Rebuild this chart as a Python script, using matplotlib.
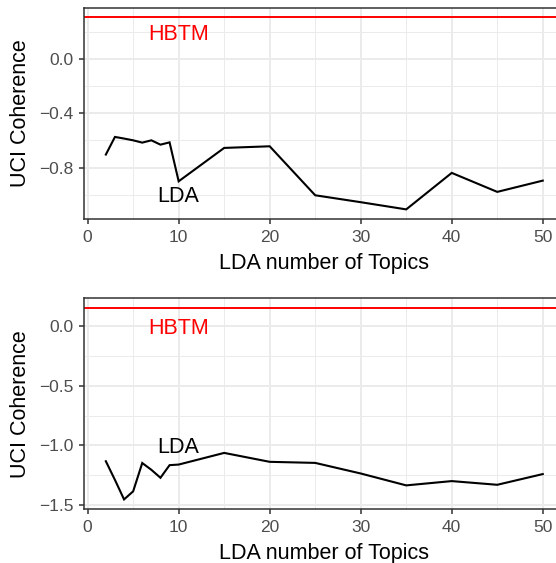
import matplotlib
matplotlib.use("Agg")
import matplotlib.pyplot as plt
from matplotlib.ticker import MultipleLocator

plt.rcParams["font.family"] = ["Liberation Sans", "DejaVu Sans"]

# number of topics used for LDA
topics = [2, 3, 4, 5, 6, 7, 8, 9, 10, 15, 20, 25, 30, 35, 40, 45, 50]

# UCI coherence, first corpus
lda_top = [-0.704, -0.574, -0.586, -0.599, -0.616, -0.599, -0.631, -0.614, -0.901,
           -0.655, -0.643, -1.004, -1.055, -1.108, -0.839, -0.979, -0.896]
hbtm_top = 0.309

# UCI coherence, second corpus
lda_bot = [-1.133, -1.290, -1.454, -1.386, -1.148, -1.205, -1.272, -1.166, -1.161,
           -1.063, -1.138, -1.147, -1.236, -1.336, -1.300, -1.331, -1.241]
hbtm_bot = 0.156

W, H = 556, 563
fig = plt.figure(figsize=(W / 100, H / 100), dpi=100)
FS = 15.5


def expand(lo, hi, f=0.05):
    d = (hi - lo) * f
    return lo - d, hi + d


def label(ax, x, y, s, color):
    # centre the capitals on (x, y), like ggplot's annotate()
    ax.annotate(s, (x, y), xytext=(0, -0.358 * FS), textcoords="offset points",
                ha="center", va="baseline", color=color, fontsize=FS)


def panel(rect, y, hbtm, major, hbtm_y):
    ax = fig.add_axes(rect)
    ax.plot(topics, y, color="black", lw=1.5, solid_joinstyle="miter")
    ax.axhline(hbtm, color="#FF0000", lw=1.4)
    label(ax, 10, hbtm_y, "HBTM", "#FF0000")
    label(ax, 10, -1.0, "LDA", "black")
    ax.set_xlim(*expand(min(topics), max(topics)))
    ax.set_ylim(*expand(min(min(y), hbtm), max(max(y), hbtm)))
    ax.xaxis.set_major_locator(MultipleLocator(10))
    ax.xaxis.set_minor_locator(MultipleLocator(5))
    ax.yaxis.set_major_locator(MultipleLocator(major))
    ax.yaxis.set_minor_locator(MultipleLocator(major / 2))
    ax.yaxis.set_major_formatter(lambda v, p: f"{v:.1f}".replace("-", "\u2212"))
    ax.grid(which="major", color="#EBEBEB", lw=1.4)
    ax.grid(which="minor", color="#EBEBEB", lw=0.7)
    ax.set_axisbelow(True)
    for s in ax.spines.values():
        s.set_color("#333333")
        s.set_linewidth(1.1)
    ax.tick_params(which="major", length=3.8, width=1.1, color="#333333",
                   labelcolor="#4D4D4D", labelsize=12.5)
    ax.tick_params(axis="x", pad=4.0)
    ax.tick_params(axis="y", pad=3.6)
    ax.tick_params(which="minor", length=0)
    ax.set_xlabel("LDA number of Topics", fontsize=FS)
    ax.set_ylabel("UCI Coherence", fontsize=FS)
    h = rect[3] * H
    ax.xaxis.set_label_coords(0.5, -33.5 / h)
    ax.yaxis.set_label_coords(-52.7 / (rect[2] * W), 0.5)
    return ax


panel([84 / W, 1 - 219 / H, 480.6 / W, 211.5 / H], lda_top, hbtm_top, 0.4, 0.2)
panel([84 / W, 1 - 509 / H, 480.6 / W, 210.7 / H], lda_bot, hbtm_bot, 0.5, 0.0)

fig.savefig("out.png", dpi=100)
